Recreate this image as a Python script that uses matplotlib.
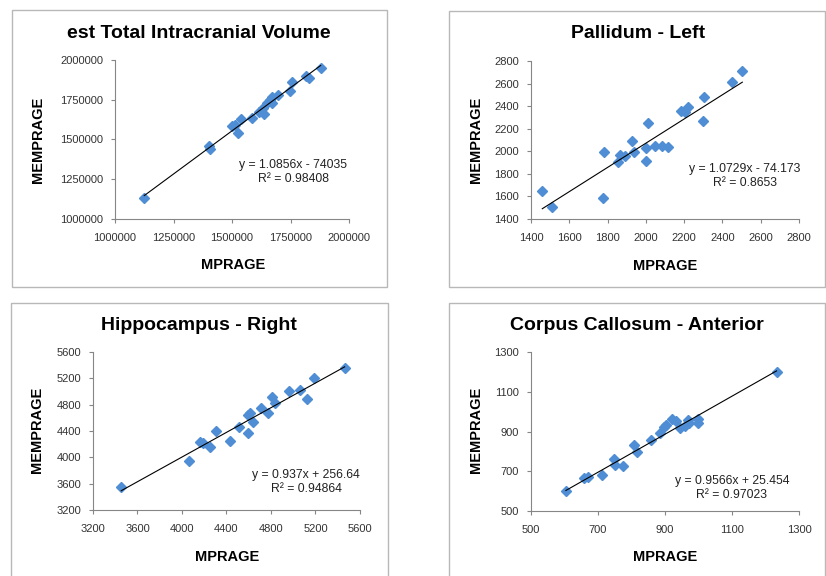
import numpy as np
import matplotlib
matplotlib.use("Agg")
import matplotlib.pyplot as plt
from matplotlib.patches import Rectangle

# values
icv_x = [1125000, 1403000, 1406000, 1499000, 1513000, 1527000, 1538000, 1587000,
         1615000, 1634000, 1637000, 1648000, 1662000, 1670000, 1672000, 1698000,
         1748000, 1755000, 1816000, 1829000, 1879000]
icv_y = [1130000, 1459000, 1438000, 1585000, 1591000, 1539000, 1629000, 1633000,
         1675000, 1696000, 1660000, 1727000, 1748000, 1769000, 1731000, 1780000,
         1807000, 1860000, 1899000, 1885000, 1948000]

pal_x = [1459, 1508, 1781, 1778, 1856, 1865, 1891, 1926, 1940, 1999, 2001,
         2013, 2048, 2086, 2114, 2182, 2205, 2222, 2300, 2304, 2452, 2504]
pal_y = [1651, 1509, 1991, 1583, 1908, 1967, 1958, 2091, 1996, 2032, 1914,
         2253, 2046, 2046, 2040, 2359, 2350, 2389, 2271, 2478, 2616, 2714]

hip_x = [3454, 4060, 4165, 4189, 4249, 4309, 4429, 4512, 4593, 4593, 4614,
         4638, 4707, 4773, 4812, 4833, 4962, 5063, 5124, 5184, 5462]
hip_y = [3554, 3949, 4238, 4213, 4162, 4400, 4253, 4466, 4365, 4643, 4678,
         4541, 4745, 4678, 4921, 4830, 5012, 5023, 4882, 5211, 5354]

cca_x = [604, 659, 669, 711, 748, 751, 776, 807, 815, 858, 885, 898, 902,
         920, 933, 945, 960, 970, 973, 999, 999, 1233]
cca_y = [601, 664, 673, 681, 760, 731, 726, 832, 798, 857, 891, 921, 932,
         962, 953, 916, 928, 958, 941, 962, 944, 1201]

titles = ["est Total Intracranial Volume", "Pallidum - Left",
          "Hippocampus - Right", "Corpus Callosum - Anterior"]
slopes = [1.0856, 1.0729, 0.937, 0.9566]
intercepts = [-74035, -74.173, 256.64, 25.454]
eq_labels = ["y = 1.0856x - 74035\nR² = 0.98408",
             "y = 1.0729x - 74.173\nR² = 0.8653",
             "y = 0.937x + 256.64\nR² = 0.94864",
             "y = 0.9566x + 25.454\nR² = 0.97023"]
x_ticks = [np.arange(1000000, 2000001, 250000), np.arange(1400, 2801, 200),
           np.arange(3200, 5601, 400), np.arange(500, 1301, 200)]
y_ticks = [np.arange(1000000, 2000001, 250000), np.arange(1400, 2801, 200),
           np.arange(3200, 5601, 400), np.arange(500, 1301, 200)]

plt.rcParams["font.family"] = ["Liberation Sans", "DejaVu Sans"]

W, H = 826, 576
fig = plt.figure(figsize=(W / 100, H / 100), dpi=100)


def px(x0, y0, x1, y1):
    # pixel box (top-left origin) -> figure fraction rect
    return [x0 / W, 1 - y1 / H, (x1 - x0) / W, (y1 - y0) / H]


# panel frames, axes boxes, title / label / equation positions in pixels
frames = [(12, 10, 387, 287), (449, 11, 825, 287),
          (11, 303, 388, 580), (449, 303, 825, 580)]
boxes = [(115, 60, 349, 219), (531, 61, 799, 219),
         (93, 352, 360, 510), (531, 352, 799, 511)]
title_pos = [(199, 33), (638, 33), (199, 325), (637, 325)]
ylab_pos = [(38, 140), (476, 140), (37, 430), (476, 430)]
xlab_pos = [(233, 265), (665, 266), (227, 557), (665, 557)]
eq_pos = [(293, 172), (745, 176), (306, 482), (732, 488)]

data = [(icv_x, icv_y), (pal_x, pal_y), (hip_x, hip_y), (cca_x, cca_y)]

for i in range(4):
    fx0, fy0, fx1, fy1 = frames[i]
    fig.patches.append(Rectangle((fx0 / W, 1 - fy1 / H), (fx1 - fx0) / W,
                                 (fy1 - fy0) / H, transform=fig.transFigure,
                                 fill=False, edgecolor="#b8b8b8", lw=1.0))

    ax = fig.add_axes(px(*boxes[i]))
    xs, ys = data[i]
    ax.plot(xs, ys, linestyle="none", marker="D", ms=5.3,
            color="#4f8ed4", mec="#4f8ed4", zorder=2)

    xl = np.array([min(xs), max(xs)])
    ax.plot(xl, slopes[i] * xl + intercepts[i], color="black", lw=0.8, zorder=3)

    ax.set_xlim(x_ticks[i][0], x_ticks[i][-1])
    ax.set_ylim(y_ticks[i][0], y_ticks[i][-1])
    ax.set_xticks(x_ticks[i])
    ax.set_yticks(y_ticks[i])
    ax.set_xticklabels([str(int(v)) for v in x_ticks[i]])
    ax.set_yticklabels([str(int(v)) for v in y_ticks[i]])
    ax.tick_params(axis="x", length=3, width=0.8, color="#868686",
                   labelsize=8, labelcolor="#333333", pad=7)
    ax.tick_params(axis="y", length=3, width=0.8, color="#868686",
                   labelsize=8, labelcolor="#333333", pad=5.5)
    for side in ["top", "right"]:
        ax.spines[side].set_visible(False)
    for side in ["left", "bottom"]:
        ax.spines[side].set_color("#868686")
        ax.spines[side].set_linewidth(0.8)
    ax.patch.set_alpha(0)

    tx, ty = title_pos[i]
    fig.text(tx / W, 1 - ty / H, titles[i], ha="center", va="center",
             fontsize=14, fontweight="bold")
    lx, ly = ylab_pos[i]
    fig.text(lx / W, 1 - ly / H, "MEMPRAGE", ha="center", va="center",
             rotation=90, fontsize=10.5, fontweight="bold")
    lx, ly = xlab_pos[i]
    fig.text(lx / W, 1 - ly / H, "MPRAGE", ha="center", va="center",
             fontsize=10.5, fontweight="bold")
    ex, ey = eq_pos[i]
    fig.text(ex / W, 1 - ey / H, eq_labels[i], ha="center", va="center",
             multialignment="center", fontsize=8.8, color="#222222",
             linespacing=1.3)

fig.savefig("out.png", dpi=100, facecolor="white")
